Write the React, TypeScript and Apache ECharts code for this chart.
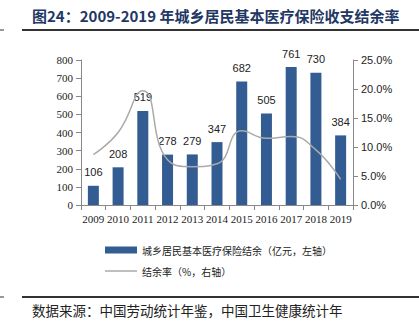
import React, { useEffect, useRef } from "react";
import * as echarts from "echarts";

const years = ["2009", "2010", "2011", "2012", "2013", "2014", "2015", "2016", "2017", "2018", "2019"];
const balance = [106, 208, 519, 278, 279, 347, 682, 505, 761, 730, 384];
const rate = [8.7, 12.5, 19.7, 7.8, 6.6, 7.1, 12.8, 11.5, 11.8, 9.5, 4.4];
const leftTicks = { min: 0, max: 800, interval: 100 };
const rightTicks = { min: 0, max: 25, interval: 5 };
const barName = "城乡居民基本医疗保险结余（亿元，左轴）";
const lineName = "结余率（%，右轴）";
const titleText = "图24：2009-2019 年城乡居民基本医疗保险收支结余率";
const sourceText = "数据来源：中国劳动统计年鉴，中国卫生健康统计年";

export default function App() {
  const ref = useRef<HTMLDivElement>(null);
  useEffect(() => {
    if (!ref.current) return;
    const chart = echarts.init(ref.current, null, { renderer: "svg" });
    const serif = "'Liberation Serif', 'DejaVu Serif', serif";
    const cjk = "'Noto Sans CJK SC', sans-serif";
    const legendText = { fontSize: 10, color: "#222", fontFamily: cjk };
    chart.setOption({
      animation: false,
      backgroundColor: "#fff",
      grid: { left: 81, right: 66, top: 60, bottom: 116 },
      legend: [
        {
          left: 100,
          top: 240,
          itemWidth: 32,
          itemHeight: 7,
          textStyle: legendText,
          data: [{ name: barName, icon: "rect" }],
        },
        {
          left: 100,
          top: 261,
          itemWidth: 32,
          itemHeight: 1.5,
          textStyle: legendText,
          data: [{ name: lineName, icon: "rect", itemStyle: { color: "#aaaaaa" } }],
        },
      ],
      xAxis: {
        type: "category",
        data: years,
        axisLine: { lineStyle: { color: "#888" } },
        axisTick: { show: true, alignWithLabel: false, lineStyle: { color: "#888" } },
        axisLabel: { color: "#222", fontSize: 11, fontFamily: serif, interval: 0, margin: 8 },
      },
      yAxis: [
        {
          type: "value",
          ...leftTicks,
          splitLine: { show: false },
          axisLine: { show: true, lineStyle: { color: "#888" } },
          axisTick: { show: true, lineStyle: { color: "#888" } },
          axisLabel: { color: "#222", fontSize: 11, fontFamily: serif, margin: 8 },
        },
        {
          type: "value",
          ...rightTicks,
          position: "right",
          splitLine: { show: false },
          axisLine: { show: true, lineStyle: { color: "#888" } },
          axisTick: { show: true, lineStyle: { color: "#888" } },
          axisLabel: {
            color: "#222",
            fontSize: 11,
            fontFamily: "'Liberation Sans', sans-serif",
            margin: 8,
            formatter: (v: number) => v.toFixed(1) + "%",
          },
        },
      ],
      series: [
        {
          name: barName,
          type: "bar",
          data: balance,
          barWidth: 11,
          itemStyle: { color: "#335d92" },
          label: {
            show: true,
            position: "top",
            distance: 8,
            color: "#222",
            fontSize: 11,
            fontFamily: "'Liberation Sans', sans-serif",
          },
        },
        {
          name: lineName,
          type: "line",
          yAxisIndex: 1,
          data: rate,
          smooth: 0.5,
          symbol: "none",
          lineStyle: { color: "#aaaaaa", width: 1.5 },
          itemStyle: { color: "#aaaaaa" },
        },
      ],
      graphic: [
        {
          type: "text",
          left: 32,
          top: 8,
          style: { text: titleText, fontSize: 15, fontWeight: "bold", fill: "#1f3864", fontFamily: cjk },
        },
        { type: "line", shape: { x1: 22, y1: 30, x2: 419, y2: 30 }, style: { stroke: "#333", lineWidth: 2 } },
        { type: "line", shape: { x1: 0, y1: 30, x2: 4, y2: 30 }, style: { stroke: "#333", lineWidth: 1 } },
        { type: "line", shape: { x1: 22, y1: 297, x2: 419, y2: 297 }, style: { stroke: "#333", lineWidth: 2 } },
        { type: "line", shape: { x1: 0, y1: 297, x2: 4, y2: 297 }, style: { stroke: "#333", lineWidth: 1 } },
        {
          type: "text",
          left: 32,
          top: 303,
          style: { text: sourceText, fontSize: 13.5, fill: "#222", fontFamily: cjk },
        },
      ],
    });
    return () => chart.dispose();
  }, []);
  return (
    <div
      ref={ref}
      style={{ position: "fixed", left: 0, top: 0, width: 419, height: 321 }}
    />
  );
}
